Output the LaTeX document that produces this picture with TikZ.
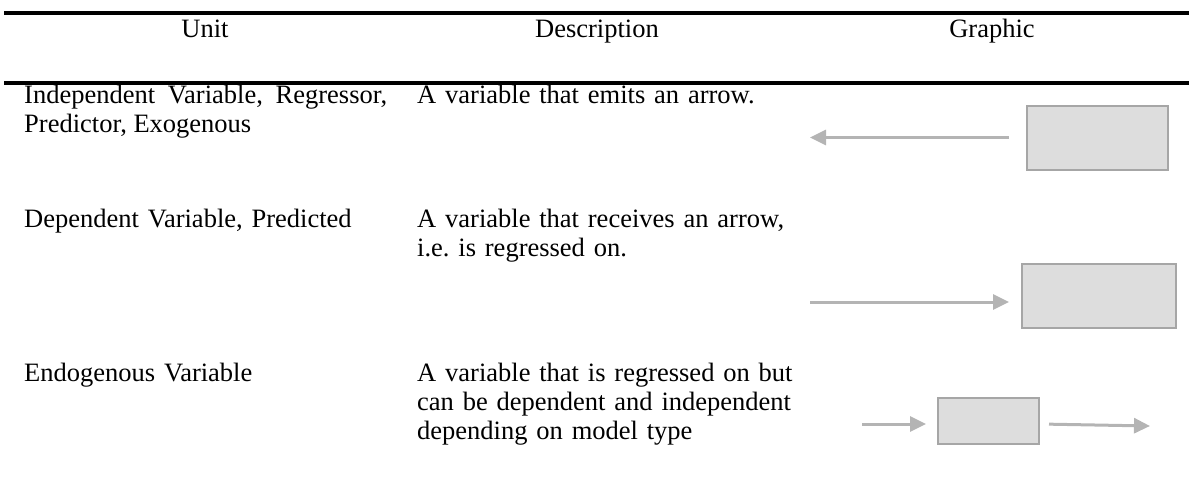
\documentclass[tikz,border=0pt]{standalone}
\usepackage{fontspec}
\setmainfont{Liberation Serif}
\usetikzlibrary{positioning, arrows.meta}
\definecolor{boxfill}{HTML}{DDDDDD}
\definecolor{boxline}{HTML}{A6A6A6}
\definecolor{linkgray}{HTML}{B4B4B4}
\frenchspacing

\begin{document}
\begin{tikzpicture}[x=1pt, y=-1pt, font=\fontsize{26.5}{29}\selectfont,
		head/.style={anchor=base, inner sep=0pt},
		cell/.style={anchor=base west, inner sep=0pt, text width=420pt, align=left},
		var/.style={draw=boxline, fill=boxfill, line width=2pt, inner sep=0pt},
		link/.style={draw=linkgray, line width=3pt, -{Triangle[length=16pt, width=15pt]}}]
			\useasboundingbox (0,0) rectangle (1189,483);
			\draw[line width=4pt] (4,12.5) -- (1189,12.5);
			\draw[line width=4pt] (4,83) -- (1189,83);
			
			\node[head] (unit) at (205,37) {Unit};
			\node[head] (desc) at (597,37) {Description};
			\node[head] (graph) at (992,37) {Graphic};
			
			\node[cell, text width=363pt, align=justify] (u1) at (24,103.5) {Independent Variable, Regressor, Predictor, Exogenous};
			\node[cell] (u2) at (24,227) {Dependent Variable, Predicted};
			\node[cell] (u3) at (24,381) {Endogenous Variable};
			\node[cell] (d1) at (417,103.5) {A variable that emits an arrow.};
			\node[cell] (d2) at (417,227) {A variable that receives an arrow,\\ i.e. is regressed on.};
			\node[cell] (d3) at (417,381) {A variable that is regressed on but\\ can be dependent and independent\\ depending on model type};
			
			\node[var, minimum width=141pt, minimum height=64pt] (v1) at (1097.5,137.5) {};
			\node[var, minimum width=154pt, minimum height=64pt] (v2) at (1099,296) {};
			\node[var, minimum width=101pt, minimum height=46pt] (v3) at (988.5,421) {};
			
			\coordinate (e1) at (810,137.5);
			\coordinate (s2) at (810,302);
			\coordinate (s3) at (862,424);
			\coordinate (e3) at (1150,426);
			
			\draw (v1.west) edge[link, shorten <=17pt] (e1);
			\draw (s2) edge[link, shorten >=12pt] (s2 -| v2.west);
			\draw (s3) edge[link, shorten >=11pt] (s3 -| v3.west);
			\draw (v3.east |- s3) edge[link, shorten <=9pt] (e3);
		\end{tikzpicture}
\end{document}
